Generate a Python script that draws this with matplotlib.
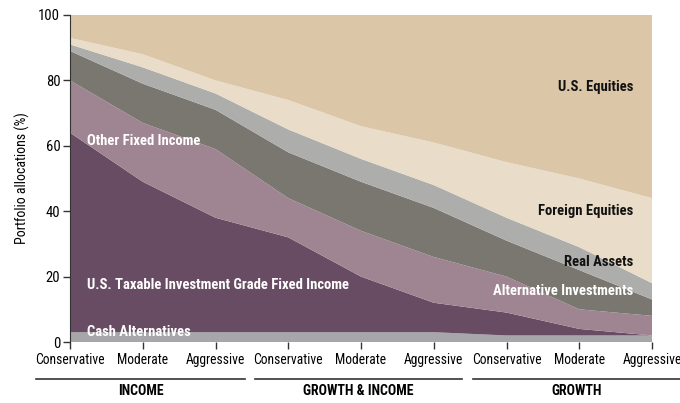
import matplotlib
matplotlib.use("Agg")
import matplotlib.pyplot as plt
from matplotlib.lines import Line2D
import numpy as np
from matplotlib import font_manager

# choose a condensed face if one is installed
cond_name, cond_stretch = None, 'normal'
prefs = ['Roboto Condensed', 'Open Sans Condensed', 'Liberation Sans Narrow',
         'Noto Sans Condensed', 'DejaVu Sans Condensed']
names = {f.name for f in font_manager.fontManager.ttflist}
for p in prefs:
    if p in names:
        cond_name = p
        break
if cond_name is None:
    for f in font_manager.fontManager.ttflist:
        if str(f.stretch) in ('condensed', 'semi-condensed', '75', '87.5') and f.name in (
                'DejaVu Sans', 'Noto Sans', 'Open Sans', 'Roboto', 'Inter', 'Lato'):
            cond_name, cond_stretch = f.name, 'condensed'
            break
if cond_name is None:
    cond_name = 'DejaVu Sans'
    scale = 0.8
else:
    scale = 1.0
plt.rcParams['font.family'] = [cond_name, 'DejaVu Sans']
plt.rcParams['font.stretch'] = cond_stretch

categories = ["Conservative", "Moderate", "Aggressive",
              "Conservative", "Moderate", "Aggressive",
              "Conservative", "Moderate", "Aggressive"]
groups = ["INCOME", "GROWTH & INCOME", "GROWTH"]

cash_alternatives = [3, 3, 3, 3, 3, 3, 2, 2, 2]
us_taxable_ig = [61, 46, 35, 29, 17, 9, 7, 2, 0]
other_fixed_income = [16, 18, 21, 12, 14, 14, 11, 6, 6]
alternative_investments = [9, 12, 12, 14, 15, 15, 11, 12, 5]
real_assets = [2, 5, 5, 7, 7, 7, 7, 7, 5]
foreign_equities = [2, 4, 4, 9, 10, 13, 17, 21, 26]
us_equities = [7, 12, 20, 26, 34, 39, 45, 50, 56]

series = [cash_alternatives, us_taxable_ig, other_fixed_income,
          alternative_investments, real_assets, foreign_equities, us_equities]
colors = ['#a7a6a9', '#684c63', '#9e8591', '#7a7670', '#adadab', '#e9dcc8', '#dcc6a8']

fig = plt.figure(figsize=(6.8, 4.03), dpi=100)
ax = fig.add_axes([70/680, 1-342/403, (652-70)/680, (342-15)/403])

x = np.arange(len(categories))
ax.stackplot(x, *series, colors=colors, linewidth=0)

fs = 10.5 * scale
ax.set_xlim(0, 8)
ax.set_ylim(0, 100)
ax.set_yticks([0, 20, 40, 60, 80, 100])
ax.set_xticks(x)
ax.set_xticklabels(categories, fontsize=9.8 * scale)
ax.tick_params(axis='y', labelsize=10.5 * scale, length=5, width=1, color='#333333', pad=2)
ax.tick_params(axis='x', length=5, width=1, color='#333333', pad=3)
for s in ['top', 'right', 'bottom']:
    ax.spines[s].set_visible(False)
ax.spines['left'].set_color('#333333')
ax.set_ylabel("Portfolio allocations (%)", fontsize=10 * scale, labelpad=6)

# area labels
kw = dict(fontsize=fs, fontweight='bold', va='center')
ax.text(0.23, 61.5, "Other Fixed Income", color='white', ha='left', **kw)
ax.text(0.23, 17.4, "U.S. Taxable Investment Grade Fixed Income", color='white', ha='left', **kw)
ax.text(0.23, 3.0, "Cash Alternatives", color='white', ha='left', **kw)
ax.text(7.74, 78, "U.S. Equities", color='#111111', ha='right', **kw)
ax.text(7.74, 40, "Foreign Equities", color='#111111', ha='right', **kw)
ax.text(7.74, 24.5, "Real Assets", color='#111111', ha='right', **kw)
ax.text(7.74, 15.6, "Alternative Investments", color='white', ha='right', **kw)

# group labels and lines
spans = [(36, 245), (255, 462), (473, 680)]
for g, (a, b) in zip(groups, spans):
    fig.add_artist(Line2D([a/680, b/680], [1-379/403, 1-379/403],
                          color='#333333', linewidth=1.2))
    fig.text((a+b)/2/680, 1-391/403, g, ha='center', va='center',
             fontsize=10 * scale, fontweight='bold')

fig.savefig("out.png", dpi=100)
